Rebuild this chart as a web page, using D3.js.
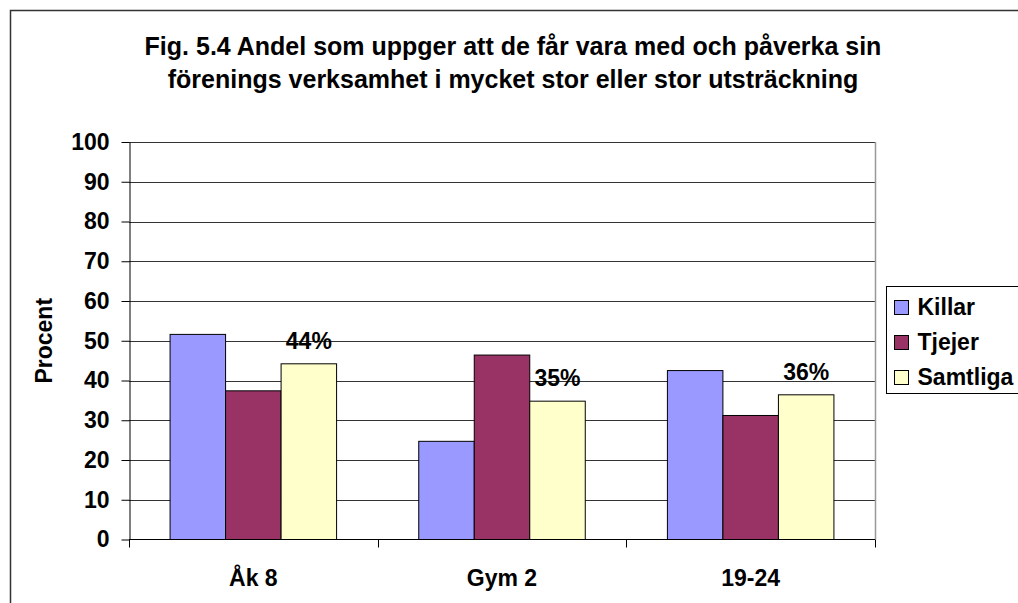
<!DOCTYPE html>
<html>
<head>
<meta charset="utf-8">
<script src="https://cdn.jsdelivr.net/npm/d3@7"></script>
<style>
  body { margin: 0; background: #fff; }
  text { font-family: "Liberation Sans", Arial, sans-serif; font-weight: bold; fill: #000; }
</style>
</head>
<body>
<svg id="chart" width="1018" height="603"></svg>
<script>
// data
const categories = ["Åk 8", "Gym 2", "19-24"];
const seriesNames = ["Killar", "Tjejer", "Samtliga"];
const killar = [51.6, 24.7, 42.5];
const tjejer = [37.4, 46.4, 31.2];
const samtliga = [44.2, 34.8, 36.4];
const samtligaLabels = ["44%", "35%", "36%"];
const yTicks = [0, 10, 20, 30, 40, 50, 60, 70, 80, 90, 100];
const titleLines = [
  "Fig. 5.4 Andel som uppger att de får vara med och påverka sin",
  "förenings verksamhet i mycket stor eller stor utsträckning"
];

const colors = { "Killar": "#9999FF", "Tjejer": "#993366", "Samtliga": "#FFFFCC" };
const seriesValues = { "Killar": killar, "Tjejer": tjejer, "Samtliga": samtliga };

const svg = d3.select("#chart");
const plot = { left: 129, right: 875, top: 142, bottom: 539.5 };
const fontSize = "23px";

// outer chart border (runs off the right and bottom edge)
svg.append("rect")
  .attr("x", 10.5).attr("y", 10.5)
  .attr("width", 1030).attr("height", 620)
  .attr("fill", "#fff")
  .attr("stroke", "#333")
  .attr("stroke-width", 1.5);

// title
svg.append("g").selectAll("text")
  .data(titleLines)
  .join("text")
  .attr("x", 513)
  .attr("y", (d, i) => 55 + i * 33)
  .attr("text-anchor", "middle")
  .attr("font-size", "25px")
  .text(d => d);

// scales
const x0 = d3.scaleBand().domain(categories).range([plot.left, plot.right]).padding(0);
const x1 = d3.scaleBand().domain(seriesNames).range([0, x0.bandwidth()])
  .paddingInner(0).paddingOuter(0.74);
const y = d3.scaleLinear().domain([0, 100]).range([plot.bottom, plot.top]);

// gridlines
svg.append("g").selectAll("line")
  .data(yTicks.filter(d => d > 0))
  .join("line")
  .attr("x1", plot.left).attr("x2", plot.right)
  .attr("y1", d => Math.round(y(d)) + 0.5).attr("y2", d => Math.round(y(d)) + 0.5)
  .attr("stroke", "#333")
  .attr("stroke-width", 1);

// right edge of plot area
svg.append("line")
  .attr("x1", plot.right + 0.5).attr("x2", plot.right + 0.5)
  .attr("y1", y(100)).attr("y2", y(0))
  .attr("stroke", "#999")
  .attr("stroke-width", 1.5);

// bars
const groups = svg.append("g").selectAll("g")
  .data(categories)
  .join("g")
  .attr("transform", d => `translate(${x0(d)},0)`);

groups.selectAll("rect")
  .data((c, ci) => seriesNames.map(s => ({ s, v: seriesValues[s][ci] })))
  .join("rect")
  .attr("x", d => x1(d.s))
  .attr("y", d => y(d.v))
  .attr("width", x1.bandwidth())
  .attr("height", d => y(0) - y(d.v))
  .attr("fill", d => colors[d.s])
  .attr("stroke", "#000")
  .attr("stroke-width", 1);

// value labels above the Samtliga bars
svg.append("g").selectAll("text")
  .data(categories)
  .join("text")
  .attr("x", (c) => x0(c) + x1("Samtliga") + x1.bandwidth() / 2)
  .attr("y", (c, i) => y(samtliga[i]) - 15)
  .attr("text-anchor", "middle")
  .attr("font-size", fontSize)
  .text((c, i) => samtligaLabels[i]);

// y axis
const yAxis = svg.append("g")
  .attr("transform", `translate(${plot.left + 0.5},0)`)
  .call(d3.axisLeft(y).tickValues(yTicks).tickSize(8).tickPadding(12).tickSizeOuter(0));
yAxis.select(".domain").attr("stroke", "#000");
yAxis.selectAll(".tick line").attr("stroke", "#000");
yAxis.selectAll(".tick text")
  .attr("font-size", fontSize)
  .attr("font-family", "Liberation Sans, Arial, sans-serif")
  .attr("font-weight", "bold")
  .attr("fill", "#000");

// x axis: labels centred, tick marks at category boundaries
const xAxis = svg.append("g")
  .attr("transform", `translate(0,${plot.bottom})`)
  .call(d3.axisBottom(x0).tickSize(0).tickPadding(30).tickSizeOuter(0));
xAxis.select(".domain").remove();
xAxis.selectAll(".tick text")
  .attr("font-size", fontSize)
  .attr("font-family", "Liberation Sans, Arial, sans-serif")
  .attr("font-weight", "bold")
  .attr("fill", "#000");

xAxis.append("line")
  .attr("x1", plot.left).attr("x2", plot.right)
  .attr("y1", 0).attr("y2", 0)
  .attr("stroke", "#000");

const boundaries = [x0(categories[0])].concat(categories.map(c => x0(c) + x0.step()));
xAxis.selectAll(".bound")
  .data(boundaries)
  .join("line")
  .attr("class", "bound")
  .attr("x1", d => Math.round(d) + 0.5).attr("x2", d => Math.round(d) + 0.5)
  .attr("y1", 0).attr("y2", 8)
  .attr("stroke", "#000");

// y axis title
svg.append("text")
  .attr("transform", `translate(52,${(plot.top + plot.bottom) / 2}) rotate(-90)`)
  .attr("text-anchor", "middle")
  .attr("font-size", fontSize)
  .text("Procent");

// legend
const legend = svg.append("g").attr("transform", "translate(886.5,286.5)");
legend.append("rect")
  .attr("width", 160).attr("height", 107)
  .attr("fill", "#fff")
  .attr("stroke", "#000");

const items = legend.selectAll("g.item")
  .data(seriesNames)
  .join("g")
  .attr("class", "item")
  .attr("transform", (d, i) => `translate(8,${28 + i * 35})`);

items.append("rect")
  .attr("y", -14)
  .attr("width", 14).attr("height", 14)
  .attr("fill", d => colors[d])
  .attr("stroke", "#000");

items.append("text")
  .attr("x", 23)
  .attr("y", 0)
  .attr("font-size", fontSize)
  .text(d => d);
</script>
</body>
</html>
